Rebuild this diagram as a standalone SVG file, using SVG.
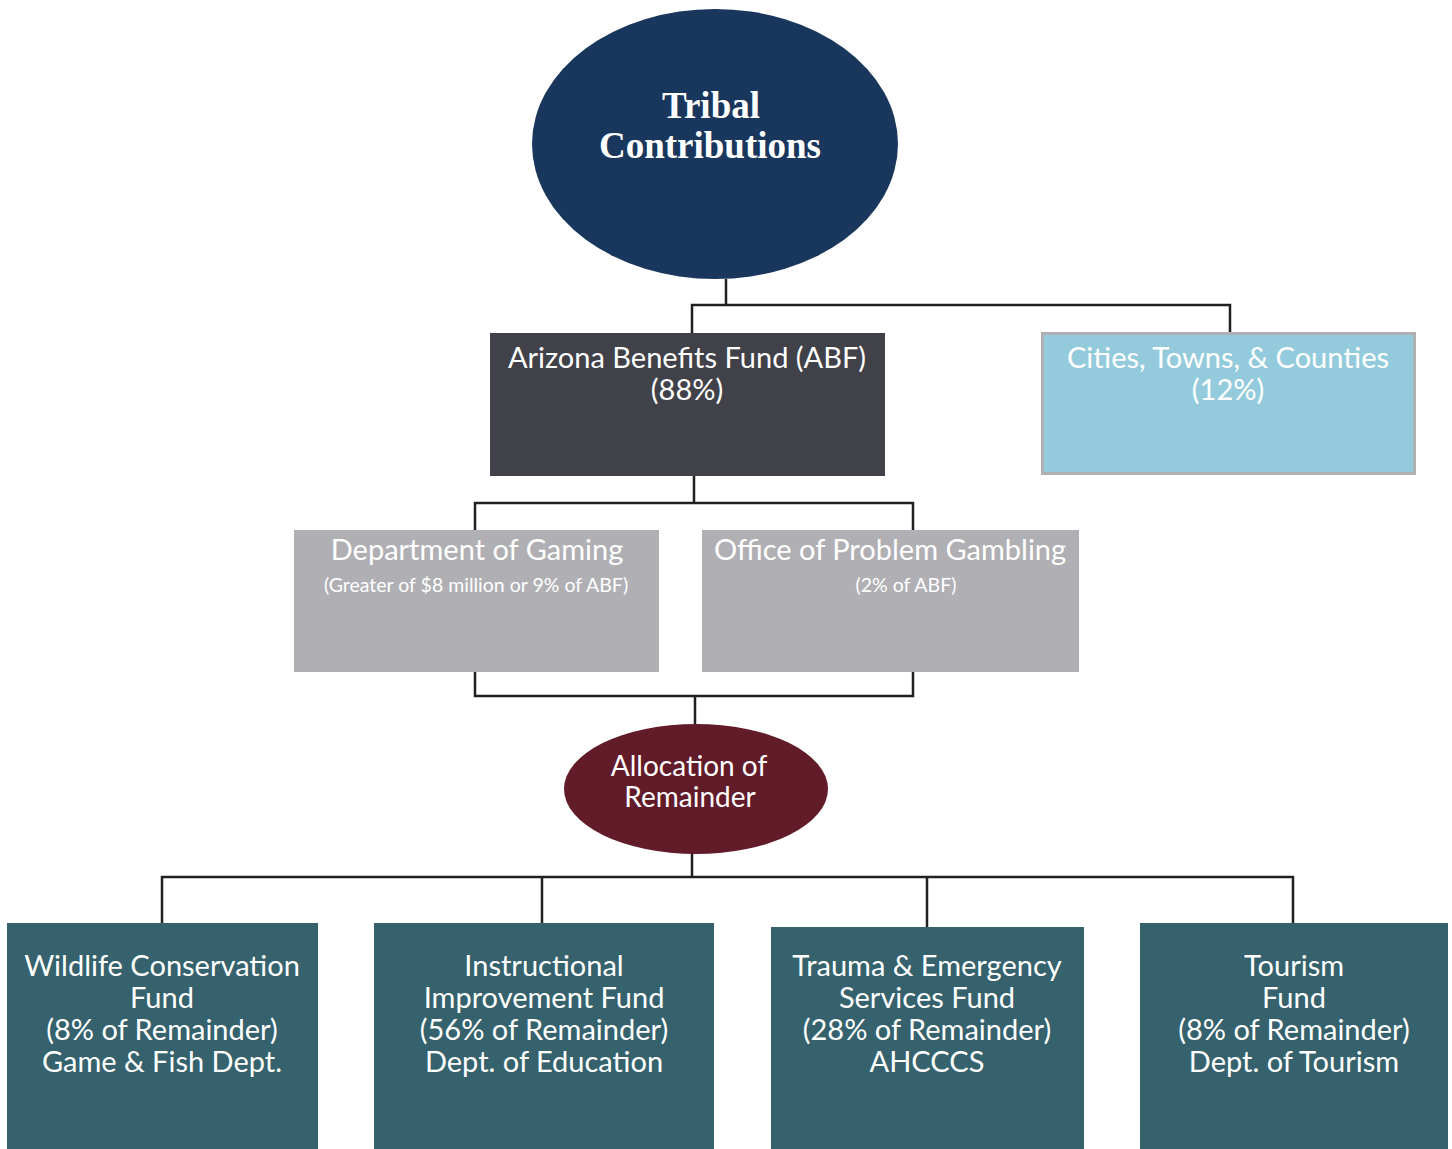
<svg xmlns="http://www.w3.org/2000/svg" width="1452" height="1149" viewBox="0 0 1452 1149">
<style>
.t{font-family:Lato,"Noto Sans","Liberation Sans",sans-serif;fill:#ffffff;text-anchor:middle}
.b{font-size:29px}
.m{font-size:29px}
.a{font-size:28px}
.s{font-size:19.5px}
.c{fill:none;stroke:#231f20;stroke-width:2.5}
.serif{font-family:"Liberation Serif",serif;font-weight:bold;font-size:37px;fill:#ffffff;text-anchor:middle}
</style>
<rect width="1452" height="1149" fill="#ffffff"/>
<g id="connectors">
<path class="c" d="M726 279V305M692 333V305H1230V332"/>
<path class="c" d="M694 476V503M475 530V503H913V530"/>
<path class="c" d="M475 672V696H913V672M695 696V724"/>
<path class="c" d="M692 852V877M162 923V877H1293V923M542 877V923M927 877V927"/>
</g>
<g id="tribal">
<ellipse cx="715" cy="144" rx="183" ry="135" fill="#19375d"/>
<text class="serif" x="711" y="118">Tribal</text>
<text class="serif" x="710" y="158">Contributions</text>
</g>
<g id="abf">
<rect x="490" y="333" width="395" height="143" fill="#414149"/>
<text class="t m" x="687" y="368">Arizona Benefits Fund (ABF)</text>
<text class="t m" x="687" y="400">(88%)</text>
</g>
<g id="cities">
<rect x="1042.5" y="333.5" width="372" height="140" fill="#94cbdc" stroke="#b0b0b4" stroke-width="3"/>
<text class="t m" x="1228" y="368" fill="#f4f9fb">Cities, Towns, &amp; Counties</text>
<text class="t m" x="1228" y="400">(12%)</text>
</g>
<g id="gaming">
<rect x="294" y="530" width="365" height="142" fill="#b0b0b4"/>
<text class="t m" x="477" y="560">Department of Gaming</text>
<text class="t s" x="476" y="592">(Greater of $8 million or 9% of ABF)</text>
</g>
<g id="problem">
<rect x="702" y="530" width="377" height="142" fill="#b0b0b4"/>
<text class="t m" x="890" y="560">Office of Problem Gambling</text>
<text class="t s" x="906" y="592">(2% of ABF)</text>
</g>
<g id="allocation">
<ellipse cx="696" cy="789" rx="132" ry="65" fill="#621b29"/>
<text class="t a" x="689" y="776">Allocation of</text>
<text class="t a" x="690" y="807">Remainder</text>
</g>
<g id="wildlife">
<rect x="7" y="923" width="311" height="226" fill="#35626d"/>
<text class="t b" x="162" y="976">Wildlife Conservation</text>
<text class="t b" x="162" y="1008">Fund</text>
<text class="t b" x="162" y="1040">(8% of Remainder)</text>
<text class="t b" x="162" y="1072">Game &amp; Fish Dept.</text>
</g>
<g id="instructional">
<rect x="374" y="923" width="340" height="226" fill="#35626d"/>
<text class="t b" x="544" y="976">Instructional</text>
<text class="t b" x="544" y="1008">Improvement Fund</text>
<text class="t b" x="544" y="1040">(56% of Remainder)</text>
<text class="t b" x="544" y="1072">Dept. of Education</text>
</g>
<g id="trauma">
<rect x="771" y="927" width="313" height="222" fill="#35626d"/>
<text class="t b" x="927" y="976">Trauma &amp; Emergency</text>
<text class="t b" x="927" y="1008">Services Fund</text>
<text class="t b" x="927" y="1040">(28% of Remainder)</text>
<text class="t b" x="927" y="1072">AHCCCS</text>
</g>
<g id="tourism">
<rect x="1140" y="923" width="308" height="226" fill="#35626d"/>
<text class="t b" x="1294" y="976">Tourism</text>
<text class="t b" x="1294" y="1008">Fund</text>
<text class="t b" x="1294" y="1040">(8% of Remainder)</text>
<text class="t b" x="1294" y="1072">Dept. of Tourism</text>
</g>
</svg>
